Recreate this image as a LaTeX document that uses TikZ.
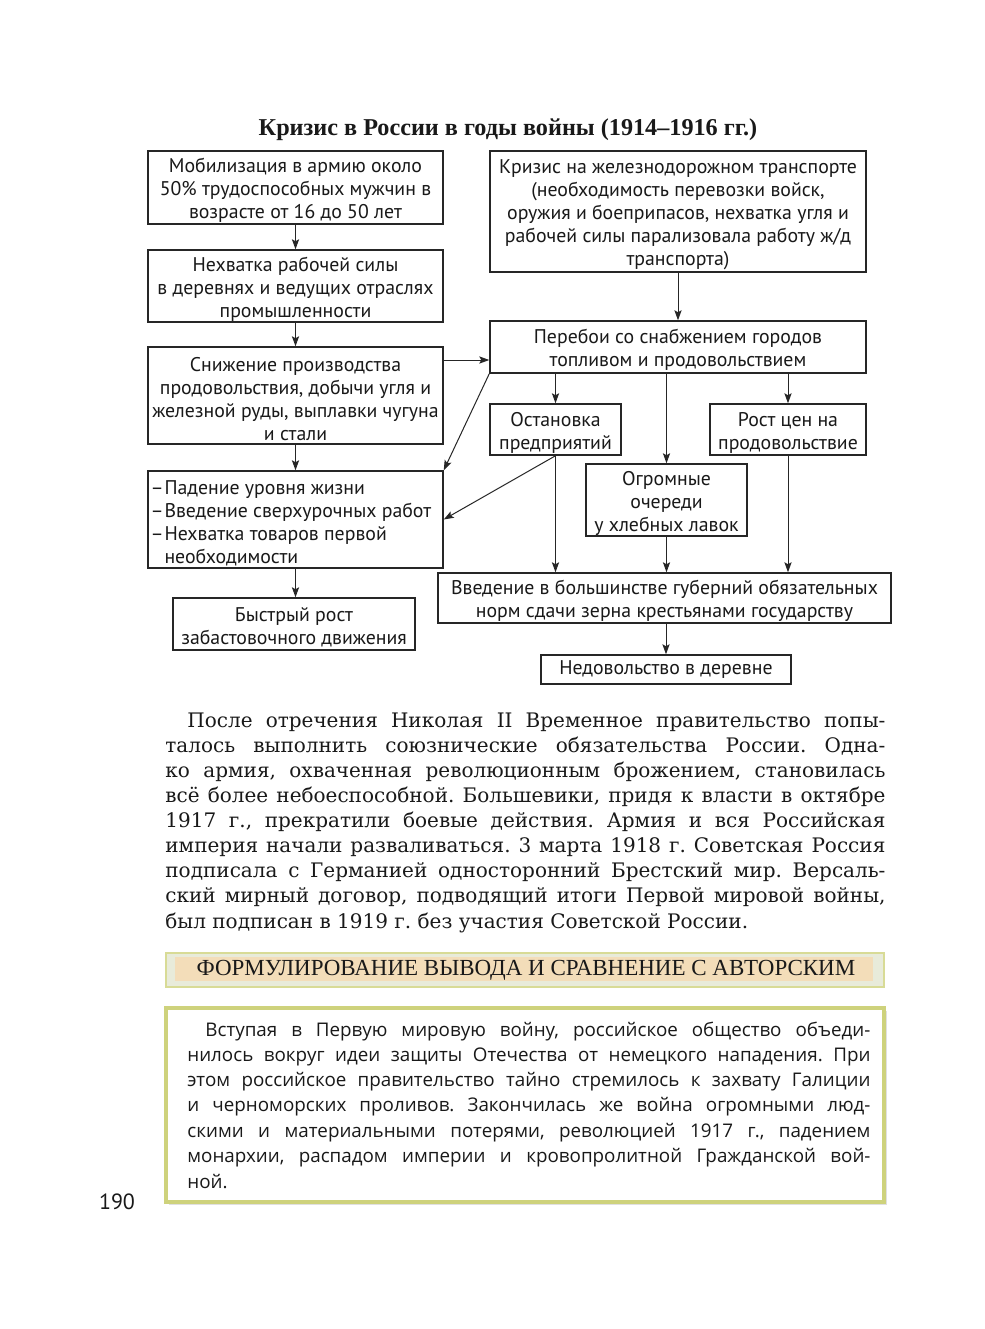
\documentclass[tikz,border=0pt]{standalone}
\usepackage{fontspec}
\setmainfont{DejaVu Serif}
\newfontfamily\boxfont{PT Sans}
\newfontfamily\headfont{Liberation Serif}
\newfontfamily\notefont{Open Sans}
\usepackage{xcolor}
\usetikzlibrary{arrows.meta,calc}
\definecolor{barframe}{HTML}{D8DB96}
\definecolor{barfill}{HTML}{E8EBDA}
\definecolor{barstrip}{HTML}{F3DDB9}
\definecolor{noteframe}{HTML}{CED27C}

\begin{document}
\frenchspacing
\begin{tikzpicture}[x=0.5pt, y=-0.5pt,
        every node/.style={inner sep=0pt, text=black!90},
        box/.style={draw=black!85, line width=0.75pt, align=flush center,
            font=\boxfont\fontsize{9.9}{11.5}\selectfont},
        topstrut/.style={execute at begin node={\rule{0pt}{10.3pt}}},
        sz/.style 2 args={minimum width={#1*0.5pt}, minimum height={#2*0.5pt},
            text width={#1*0.5pt}},
        arr/.style={-{Stealth[length=5pt,width=3.6pt,inset=1pt]}, line width=0.5pt, black!85},
        para/.style={font=\fontsize{10}{12.5}\selectfont, anchor=base west},
        note/.style={font=\notefont\fontsize{9.4}{12}\selectfont, anchor=base west}
    ]
    \useasboundingbox[fill=white] (0,0) rectangle (985,1329);

    % ============ title ============
    \node[font=\headfont\bfseries\fontsize{12.1}{14}\selectfont] (title) at (508,130)
    {Кризис в России в годы войны (1914–1916 гг.)};

    % ============ left column ============
    \node[box, topstrut, sz={295}{73}] (mob) at (295.5,187.5)
    {Мобилизация в армию около\\50\% трудоспособных мужчин в\\возрасте от 16 до 50 лет};
    \node[box, topstrut, sz={295}{72}] (nehv) at (295.5,286)
    {Нехватка рабочей силы\\в деревнях и ведущих отраслях\\промышленности};
    \node[box, topstrut, sz={295}{97}] (sniz) at (295.5,395.5)
    {Снижение производства\\продовольствия, добычи угля и\\железной руды, выплавки чугуна\\и стали};
    \node[box, topstrut, sz={295}{97}, align=flush left, text width=145pt] (pad) at (295.5,519.5)
    {\makebox[7pt][l]{–}Падение уровня жизни\\\makebox[7pt][l]{–}Введение сверхурочных работ\\\makebox[7pt][l]{–}Нехватка товаров первой\\\makebox[7pt]{}необходимости};
    \node[box, topstrut, sz={242}{52}] (byst) at (294,624)
    {Быстрый рост\\забастовочного движения};

    % ============ right column ============
    \node[box, topstrut, sz={376}{121}] (zhd) at (678,211.5)
    {Кризис на железнодорожном транспорте\\(необходимость перевозки войск,\\оружия и боеприпасов, нехватка угля и\\рабочей силы парализовала работу ж/д\\транспорта)};
    \node[box, topstrut, sz={376}{52}] (pereb) at (678,347)
    {Перебои со снабжением городов\\топливом и продовольствием};
    \node[box, topstrut, sz={131}{51}] (ostan) at (555.5,429.5)
    {Остановка\\предприятий};
    \node[box, topstrut, sz={156}{51}] (rost) at (788,429.5)
    {Рост цен на\\продовольствие};
    \node[box, topstrut, sz={161}{72}] (ocher) at (666.5,500)
    {Огромные\\очереди\\у хлебных лавок};
    \node[box, topstrut, sz={453}{50}] (vved) at (664.5,598)
    {Введение в большинстве губерний обязательных\\норм сдачи зерна крестьянами государству};
    \node[box, sz={250}{29}] (nedov) at (666,669.5)
    {Недовольство в деревне};

    % ============ arrows ============
    \draw[arr] (mob) -- (nehv);
    \draw[arr] (nehv) -- (sniz);
    \draw[arr] (sniz) -- (pad);
    \draw[arr] (pad.south) -- (pad.south |- byst.north);
    \draw[arr] (zhd) -- (pereb);
    \draw[arr] (sniz.east |- 0,360) -- (pereb.west |- 0,360);
    \draw[arr] (pereb.south west) -- (pad.north east);
    \draw[arr] (pereb.south -| ostan) -- (ostan.north);
    \draw[arr] (pereb.south -| ocher) -- (ocher.north);
    \draw[arr] (pereb.south -| rost) -- (rost.north);
    \draw[arr] (ostan.south) -- (ostan.south |- vved.north);
    \draw[arr] (ostan.south) -- (pad.east);
    \draw[arr] (ocher.south) -- (ocher.south |- vved.north);
    \draw[arr] (rost.south) -- (rost.south |- vved.north);
    \draw[arr] (vved.south -| nedov) -- (nedov.north);

    % ============ paragraph ============
    \node[para] (p1) at (187,727)
    {\makebox[349pt][s]{После отречения Николая II Временное правительство попы-}};
    \foreach \n/\t in {2/{талось выполнить союзнические обязательства России. Одна-},
            3/{ко армия, охваченная революционным брожением, становилась},
            4/{всё более небоеспособной. Большевики, придя к власти в октябре},
            5/{1917 г., прекратили боевые действия. Армия и вся Российская},
            6/{империя начали разваливаться. 3 марта 1918 г. Советская Россия},
            7/{подписала с Германией односторонний Брестский мир. Версаль-},
            8/{ский мирный договор, подводящий итоги Первой мировой войны,}}
    \node[para] (p\n) at (165,{727+25.1*(\n-1)}) {\makebox[360pt][s]{\t}};
    \node[para] (p9) at (165,928) {был подписан в 1919 г. без участия Советской России.};

    % ============ header bar ============
    \draw[barframe, line width=1pt, fill=barfill] (166,953) rectangle (884,987);
    \fill[barstrip] (175,957) rectangle (873,981);
    \node[font=\headfont\fontsize{11.5}{13}\selectfont] (head) at (526,970)
    {ФОРМУЛИРОВАНИЕ ВЫВОДА И СРАВНЕНИЕ С АВТОРСКИМ};

    % ============ conclusion box ============
    \fill[black!12] (169,1011) rectangle (887,1205);
    \draw[noteframe, line width=2pt, fill=white] (166,1008) rectangle (884,1202);
    \node[note] (c1) at (205,1036)
    {\makebox[332.5pt][s]{Вступая в Первую мировую войну, российское общество объеди-}};
    \foreach \n/\t in {2/{нилось вокруг идеи защиты Отечества от немецкого нападения. При},
            3/{этом российское правительство тайно стремилось к захвату Галиции},
            4/{и черноморских проливов. Закончилась же война огромными люд-},
            5/{скими и материальными потерями, революцией 1917 г., падением},
            6/{монархии, распадом империи и кровопролитной Гражданской вой-}}
    \node[note] (c\n) at (187,{1036+25.3*(\n-1)}) {\makebox[341.5pt][s]{\t}};
    \node[note] (c7) at (187,1188) {ной.};

    % ============ page number ============
    \node[font=\boxfont\fontsize{11}{13}\selectfont] (pnum) at (117,1202) {190};
\end{tikzpicture}
\end{document}
